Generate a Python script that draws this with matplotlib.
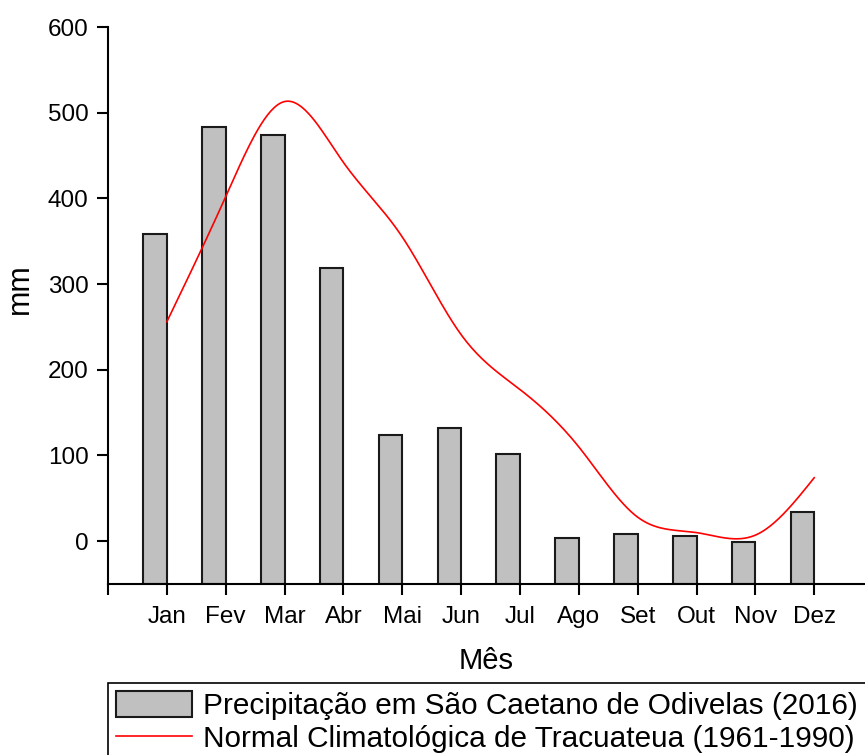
import numpy as np
import matplotlib
matplotlib.use('Agg')
import matplotlib.pyplot as plt

plt.rcParams['font.family'] = ['Liberation Sans', 'DejaVu Sans']

meses = ['Jan', 'Fev', 'Mar', 'Abr', 'Mai', 'Jun', 'Jul', 'Ago', 'Set', 'Out', 'Nov', 'Dez']
# precipitacao observada em Sao Caetano de Odivelas (2016), mm
precip_2016 = [358, 483, 474, 319, 124, 132, 102, 4, 8, 6, -1, 34]
# normal climatologica de Tracuateua (1961-1990), mm
normal = [256, 402, 513, 442, 355, 241, 177, 110, 28, 10, 7, 74]


def natural_spline(x, y, n=400):
    # cubic spline natural, so para desenhar a curva suave
    x = np.asarray(x, float)
    y = np.asarray(y, float)
    k = len(x)
    h = np.diff(x)
    A = np.zeros((k, k))
    b = np.zeros(k)
    A[0, 0] = 1
    A[-1, -1] = 1
    for i in range(1, k - 1):
        A[i, i - 1] = h[i - 1]
        A[i, i] = 2 * (h[i - 1] + h[i])
        A[i, i + 1] = h[i]
        b[i] = 3 * ((y[i + 1] - y[i]) / h[i] - (y[i] - y[i - 1]) / h[i - 1])
    c = np.linalg.solve(A, b)
    xs = np.linspace(x[0], x[-1], n)
    ys = np.empty_like(xs)
    for j, xv in enumerate(xs):
        i = min(np.searchsorted(x, xv, side='right') - 1, k - 2)
        dx = xv - x[i]
        bi = (y[i + 1] - y[i]) / h[i] - h[i] * (2 * c[i] + c[i + 1]) / 3
        di = (c[i + 1] - c[i]) / (3 * h[i])
        ys[j] = y[i] + bi * dx + c[i] * dx ** 2 + di * dx ** 3
    return xs, ys


fig = plt.figure(figsize=(8.65, 7.55), dpi=100)
ax = fig.add_axes([108 / 865, 1 - 584 / 755, 757 / 865, 557 / 755])

pos = np.arange(1, 13)
ymin = -50
barras = ax.bar(pos - 0.2, np.array(precip_2016) - ymin, width=0.4, bottom=ymin,
                color='#c0c0c0', edgecolor='#1a1a1a', linewidth=1.5, zorder=2)

xs, ys = natural_spline(pos, normal)
linha, = ax.plot(xs, ys, color='red', linewidth=1.2, zorder=3)

ax.set_xlim(0, 757 / 58.85)
ax.set_ylim(ymin, 600)
ax.set_xticks(np.arange(0, 13))
ax.set_xticklabels([''] + meses)
ax.set_yticks(range(0, 601, 100))

ax.spines['top'].set_visible(False)
ax.spines['right'].set_visible(False)
ax.spines['left'].set_linewidth(1.5)
ax.spines['bottom'].set_linewidth(1.5)
ax.tick_params(axis='both', direction='out', length=8, width=1.5, labelsize=17.5)
ax.tick_params(axis='x', pad=8)
ax.tick_params(axis='y', pad=6)

ax.set_xlabel('Mês', fontsize=21)
ax.set_ylabel('mm', fontsize=22)
ax.xaxis.set_label_coords(0.5, -0.113)
ax.yaxis.set_label_coords(-0.097, 0.53)

leg = fig.legend([barras, linha],
                 ['Precipitação em São Caetano de Odivelas (2016)',
                  'Normal Climatológica de Tracuateua (1961-1990)'],
                 loc='upper left', bbox_to_anchor=(108 / 865, 1 - 683 / 755),
                 borderaxespad=0, fontsize=21.4, fancybox=False, edgecolor='black',
                 framealpha=1, handlelength=2.55, handleheight=1.0, handletextpad=0.4,
                 labelspacing=0.12, borderpad=0.26)
leg.get_frame().set_linewidth(1.2)

fig.savefig('out.png', dpi=100)
